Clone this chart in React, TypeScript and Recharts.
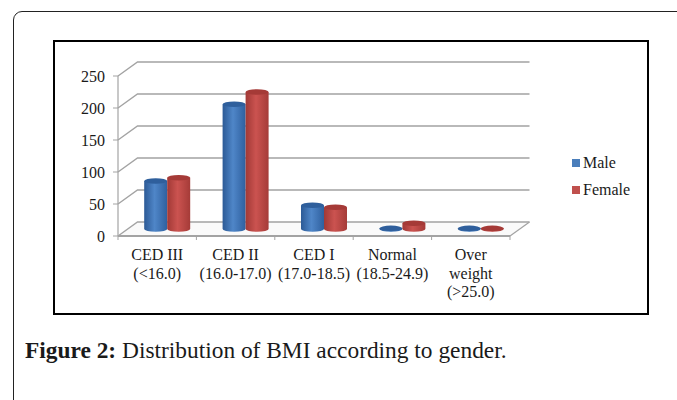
import React from 'react';
import { BarChart, Bar, CartesianGrid, Legend, XAxis, YAxis } from 'recharts';

const categories = ['CED III\n(<16.0)', 'CED II\n(16.0-17.0)', 'CED I\n(17.0-18.5)', 'Normal\n(18.5-24.9)', 'Over\nweight\n(>25.0)'];
const male = [75, 195, 37, 1, 1];
const female = [80, 214, 34, 9, 1];
const yTicks = [0, 50, 100, 150, 200, 250];
const seriesOrder = ['Male', 'Female'];

const chartData = categories.map((name, i) => ({ name, Male: male[i], Female: female[i] }));

const FONT = '"Liberation Serif", serif';
const TEXT = '#1a1a1a';
const AXIS = '#a3a3a3';
// fake 3D depth of the plot box
const DEPTH_X = 19.5;
const DEPTH_Y = -14;
const BAND = 78.4;

const GridLine = (props: any) => {
  const { x1, y1, x2, y2, isFloor } = props;
  const bx1 = x1 + DEPTH_X;
  const bx2 = x2 + DEPTH_X;
  const by = y1 + DEPTH_Y;
  return (
    <g>
      {isFloor && <polygon points={`${x1},${y1} ${bx1},${by} ${bx2},${by} ${x2},${y2}`} fill="#fafafa" />}
      <polyline points={`${x1},${y1} ${bx1},${by} ${bx2},${by}`} fill="none" stroke={AXIS} strokeWidth={1.4} />
      {isFloor && <line x1={x2} y1={y2} x2={bx2} y2={by} stroke={AXIS} strokeWidth={1.2} />}
    </g>
  );
};

const Cylinder = (props: any) => {
  const { x, y, width, height, dataKey } = props;
  const cx = x + 9.5 + width / 2;
  const left = x + 9.5;
  const top = y - 7;
  const ry = 2.8;
  const isMale = dataKey === 'Male';
  const capColor = isMale ? '#2f5f9c' : '#a53a37';
  return (
    <g>
      <path
        d={`M${left},${top} L${left},${top + height} A${width / 2},${ry} 0 0 0 ${left + width},${top + height} L${left + width},${top} Z`}
        fill={`url(#${isMale ? 'cylMale' : 'cylFemale'})`}
      />
      <ellipse cx={cx} cy={top} rx={width / 2} ry={ry} fill={capColor} />
    </g>
  );
};

const CategoryTick = (props: any) => {
  const { x, y, payload, index } = props;
  const lines = String(payload.value).split('\n');
  return (
    <g>
      <line x1={x - BAND / 2} y1={y - 8} x2={x - BAND / 2} y2={y - 4} stroke={AXIS} />
      {index === categories.length - 1 && <line x1={x + BAND / 2} y1={y - 8} x2={x + BAND / 2} y2={y - 4} stroke={AXIS} />}
      <text x={x} y={y + 16} textAnchor="middle" fontFamily={FONT} fontSize={16} fill={TEXT}>
        {lines.map((line, i) => (
          <tspan key={line} x={x} dy={i === 0 ? 0 : 18.5}>
            {line}
          </tspan>
        ))}
      </text>
    </g>
  );
};

const LegendList = ({ payload }: any) => (
  <div style={{ fontFamily: FONT, fontSize: 16, color: TEXT }}>
    {seriesOrder.map((name) => {
      const item = (payload || []).find((p: any) => p.value === name);
      return (
        <div key={name} style={{ display: 'flex', alignItems: 'center', height: 26.5 }}>
          <span style={{ width: 8, height: 8, background: item?.color, marginRight: 3 }} />
          {name}
        </div>
      );
    })}
  </div>
);

export default function App() {
  return (
    <div style={{ position: 'absolute', left: 0, top: 0, width: 677, height: 400, overflow: 'hidden', background: '#fff' }}>
      <div
        style={{
          position: 'absolute',
          left: 13,
          top: 11,
          width: 700,
          height: 420,
          border: '1px solid #222',
          borderTopLeftRadius: 9,
        }}
      />
      <div style={{ position: 'absolute', left: 53, top: 40, width: 592, height: 271, border: '2px solid #000' }} />
      <div style={{ position: 'absolute', left: 0, top: 0 }}>
        <BarChart
          width={677}
          height={400}
          data={chartData}
          margin={{ top: 76, right: 167, bottom: 84, left: 60 }}
          barCategoryGap="21.3%"
          barGap={0}
        >
          <defs>
            <linearGradient id="cylMale" x1="0" y1="0" x2="1" y2="0">
              <stop offset="0%" stopColor="#2c5a96" />
              <stop offset="45%" stopColor="#4f86c8" />
              <stop offset="100%" stopColor="#2f609f" />
            </linearGradient>
            <linearGradient id="cylFemale" x1="0" y1="0" x2="1" y2="0">
              <stop offset="0%" stopColor="#a13936" />
              <stop offset="45%" stopColor="#cb5350" />
              <stop offset="100%" stopColor="#a53b38" />
            </linearGradient>
          </defs>
          <CartesianGrid
            vertical={false}
            horizontal={(p: any) => <GridLine key={p.key} {...p} isFloor={p.y1 > 230} />}
          />
          <XAxis
            dataKey="name"
            interval={0}
            height={80}
            axisLine={{ stroke: AXIS, strokeWidth: 2 }}
            tickLine={false}
            tick={<CategoryTick />}
          />
          <YAxis
            width={58}
            domain={[0, 250]}
            ticks={yTicks}
            axisLine={{ stroke: AXIS, strokeWidth: 1.2 }}
            tickLine={{ stroke: AXIS }}
            tickSize={5}
            tickMargin={8}
            tick={{ fontFamily: FONT, fontSize: 16, fill: TEXT }}
          />
          <Legend
            layout="vertical"
            align="center"
            verticalAlign="middle"
            wrapperStyle={{ left: 572, top: 150, width: 80, bottom: 'auto', right: 'auto' }}
            content={<LegendList />}
          />
          <Bar dataKey="Male" fill="#4a7ebb" isAnimationActive={false} shape={<Cylinder dataKey="Male" />} />
          <Bar dataKey="Female" fill="#c0504d" isAnimationActive={false} shape={<Cylinder dataKey="Female" />} />
        </BarChart>
      </div>
      <div style={{ position: 'absolute', left: 25, top: 337, fontFamily: FONT, fontSize: 23.4, color: '#1a1a1a', whiteSpace: 'nowrap' }}>
        <b>Figure 2:</b> Distribution of BMI according to gender.
      </div>
    </div>
  );
}
